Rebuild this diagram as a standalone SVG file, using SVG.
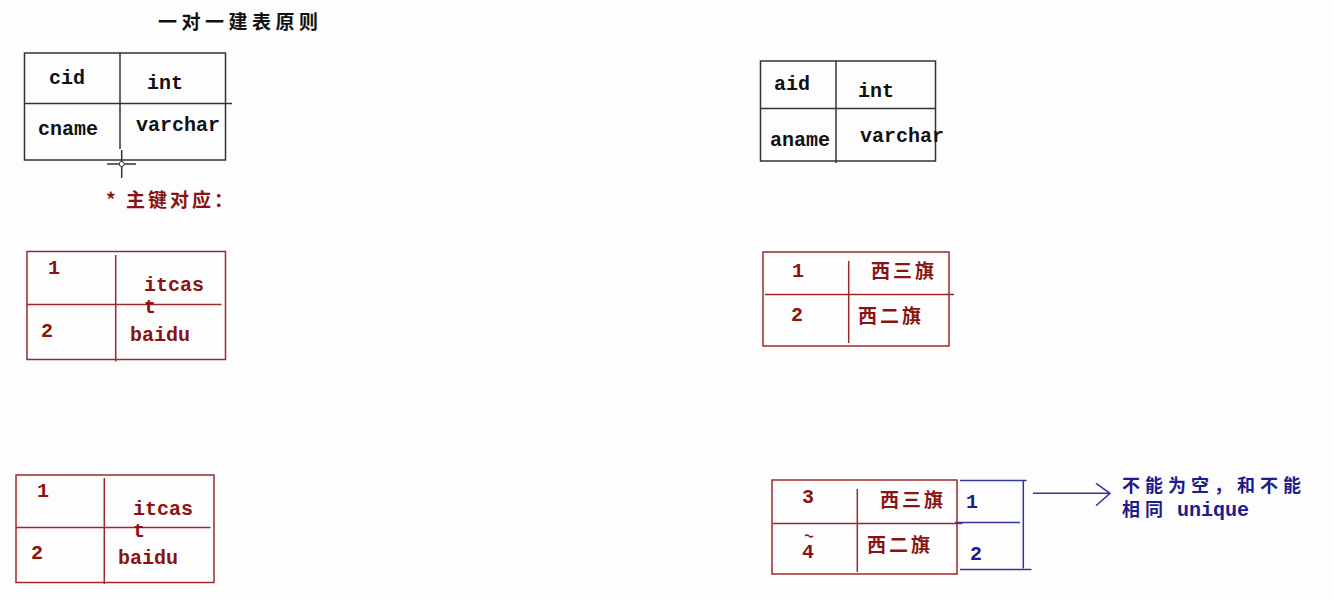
<svg xmlns="http://www.w3.org/2000/svg" width="1334" height="601" viewBox="0 0 1334 601">
<style>
.bk{stroke:#333;stroke-width:1.5;fill:none}
.rd{stroke:#9a2a2a;stroke-width:1.5;fill:none}
.bl{stroke:#3434a0;stroke-width:1.5;fill:none}
.lat{font-family:"Liberation Mono",monospace;font-weight:bold;font-size:20px}
.cjk{font-family:"Noto Sans CJK SC",sans-serif;font-weight:bold;font-size:19px;letter-spacing:4px}
.k{fill:#111}
.r{fill:#8b1212}
.b{fill:#1c1c8c}
</style>
<rect width="1334" height="601" fill="#fdfdfd"/>
<text class="cjk k" x="158" y="29" style="letter-spacing:4.5px">一对一建表原则</text>

<g id="table-c-schema">
<rect class="bk" x="24.5" y="53" width="201" height="107"/>
<line class="bk" x1="120" y1="53" x2="120" y2="149"/>
<line class="bk" x1="24.5" y1="103.5" x2="232" y2="103.5"/>
<text class="lat k" x="49" y="84">cid</text>
<text class="lat k" x="147" y="89">int</text>
<text class="lat k" x="38" y="135">cname</text>
<text class="lat k" x="136" y="131">varchar</text>
</g>

<g id="cursor">
<line class="bk" x1="107" y1="164" x2="136" y2="164"/>
<line class="bk" x1="121.7" y1="150" x2="121.7" y2="178"/>
<circle cx="121.7" cy="164" r="2.5" fill="#fff" stroke="#333" stroke-width="1"/>
</g>

<text class="cjk r" x="106" y="207" style="letter-spacing:3px">* 主键对应：</text>

<g id="table-a-schema">
<rect class="bk" x="760.5" y="61" width="175" height="100"/>
<line class="bk" x1="836" y1="61" x2="836" y2="163"/>
<line class="bk" x1="760.5" y1="108.5" x2="936" y2="108.5"/>
<text class="lat k" x="774" y="90">aid</text>
<text class="lat k" x="858" y="97">int</text>
<text class="lat k" x="770" y="146">aname</text>
<text class="lat k" x="860" y="142">varchar</text>
</g>

<g id="table-c-data-1">
<rect class="rd" x="27" y="251.5" width="198.5" height="108"/>
<line class="rd" x1="115.7" y1="255" x2="115.7" y2="361.5"/>
<line class="rd" x1="27" y1="304.5" x2="221.5" y2="304.5"/>
<text class="lat r" x="48" y="274">1</text>
<text class="lat r" x="144" y="291">itcas</text>
<text class="lat r" x="144" y="313">t</text>
<text class="lat r" x="41" y="337">2</text>
<text class="lat r" x="130" y="341">baidu</text>
</g>

<g id="table-a-data-1">
<rect class="rd" x="763" y="252" width="186" height="94"/>
<line class="rd" x1="848.7" y1="261" x2="848.7" y2="343"/>
<line class="rd" x1="765" y1="294.5" x2="954" y2="294.5"/>
<text class="lat r" x="792" y="277">1</text>
<text class="cjk r" x="871" y="278" style="letter-spacing:3px">西三旗</text>
<text class="lat r" x="791" y="321">2</text>
<text class="cjk r" x="858" y="323" style="letter-spacing:3px">西二旗</text>
</g>

<g id="table-c-data-2">
<rect class="rd" x="16" y="475" width="198" height="107.5"/>
<line class="rd" x1="104.3" y1="478" x2="104.3" y2="584"/>
<line class="rd" x1="16" y1="527.5" x2="210.5" y2="527.5"/>
<text class="lat r" x="37" y="497">1</text>
<text class="lat r" x="133" y="515">itcas</text>
<text class="lat r" x="133" y="537">t</text>
<text class="lat r" x="31" y="559">2</text>
<text class="lat r" x="118" y="564">baidu</text>
</g>

<g id="table-a-data-2">
<rect class="rd" x="772" y="480" width="185" height="94"/>
<line class="rd" x1="857.3" y1="489" x2="857.3" y2="572"/>
<line class="rd" x1="773" y1="523.5" x2="962.5" y2="523.5"/>
<text class="lat r" x="802" y="503">3</text>
<text class="cjk r" x="880" y="507" style="letter-spacing:3px">西三旗</text>
<path d="M805,536 Q807,534 809,536 Q811,538 813,536" stroke="#8b1212" stroke-width="1.2" fill="none"/>
<text class="lat r" x="802" y="558">4</text>
<text class="cjk r" x="867" y="552" style="letter-spacing:3px">西二旗</text>
</g>

<g id="unique-box">
<line class="bl" x1="960" y1="480.5" x2="1026.5" y2="480.5"/>
<line class="bl" x1="1023.3" y1="480" x2="1023.3" y2="568.5"/>
<line class="bl" x1="955" y1="522.5" x2="1020" y2="522.5"/>
<line class="bl" x1="960" y1="569.5" x2="1031.5" y2="569.5"/>
<text class="lat b" x="966" y="508">1</text>
<text class="lat b" x="970" y="560">2</text>
</g>

<g id="connectors">
<line class="bl" x1="1033" y1="493.3" x2="1109" y2="493.3"/>
<polyline class="bl" points="1096,483.3 1110,493.3 1096,505.7"/>
</g>

<g id="note">
<text class="cjk b" x="1122" y="492" style="font-size:18px;letter-spacing:5px">不能为空，和不能</text>
<text class="cjk b" x="1122" y="516" style="font-size:18px;letter-spacing:5px">相同 <tspan class="lat" style="letter-spacing:0">unique</tspan></text>
</g>
</svg>
